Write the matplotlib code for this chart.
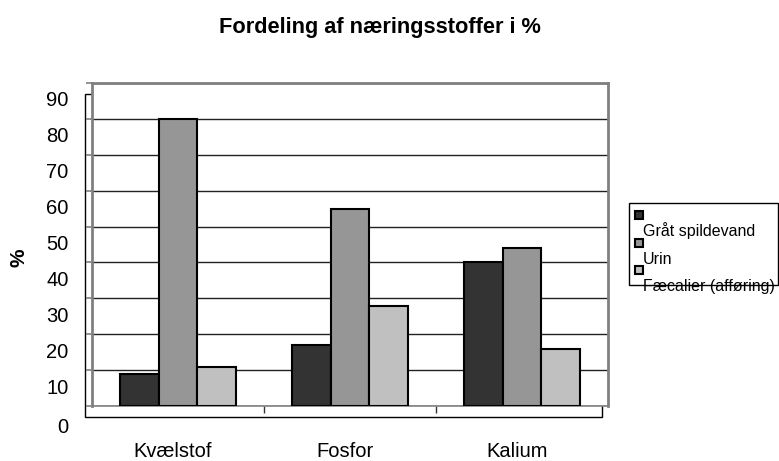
import matplotlib
matplotlib.use("Agg")
import matplotlib.pyplot as plt
from matplotlib.patches import Rectangle
from matplotlib.transforms import ScaledTranslation
import numpy as np

plt.rcParams["font.family"] = ["Liberation Sans", "DejaVu Sans"]

# Data
categories = ["Kvælstof", "Fosfor", "Kalium"]
series_names = ["Gråt spildevand", "Urin", "Fæcalier (afføring)"]
graat_spildevand = [9, 17, 40]
urin = [80, 55, 44]
faecalier = [11, 28, 16]
yticks = [0, 10, 20, 30, 40, 50, 60, 70, 80, 90]

colors = ["#333333", "#969696", "#c0c0c0"]

W, H = 779, 461
fig = plt.figure(figsize=(W / 100, H / 100), dpi=100)

def px_rect(x0, y0, x1, y1):
    """Figure-fraction rectangle from pixel corners (top-left origin)."""
    return [x0 / W, 1 - y1 / H, (x1 - x0) / W, (y1 - y0) / H]

# Back wall of the pseudo-3D plot
ax = fig.add_axes(px_rect(92, 83, 608, 406))
ax.set_xlim(-0.5, 2.5)
ax.set_ylim(0, 90)

x = np.arange(len(categories))
bw = 0.224
for i, vals in enumerate([graat_spildevand, urin, faecalier]):
    ax.bar(x + (i - 1) * bw, vals, width=bw, color=colors[i],
           edgecolor="black", linewidth=1.5, zorder=3)

# Gridlines
ax.set_yticks(yticks)
ax.yaxis.grid(True, color="#222222", linewidth=1.0, zorder=1)
ax.set_axisbelow(True)

for side in ["left", "top", "right"]:
    ax.spines[side].set_color("#808080")
    ax.spines[side].set_linewidth(2.0)
ax.spines["bottom"].set_color("#808080")
ax.spines["bottom"].set_linewidth(1.2)

ax.tick_params(axis="y", length=4, width=1.2, color="#808080", pad=13,
               labelsize=14.5)
for lab in ax.get_yticklabels():
    off = 19 if lab.get_text() == "0" else 16
    lab.set_transform(lab.get_transform() +
                      ScaledTranslation(0, -off / 100, fig.dpi_scale_trans))

ax.set_xticks(x)
ax.set_xticklabels(categories, fontsize=14.5)
ax.set_xticks([0.5, 1.5], minor=True)
ax.tick_params(axis="x", which="major", length=0, pad=26)
ax.tick_params(axis="x", which="minor", length=5, width=1.0, color="#333333")
for lab in ax.get_xticklabels():
    lab.set_transform(lab.get_transform() +
                      ScaledTranslation(-5 / 100, 0, fig.dpi_scale_trans))

# Front frame of the plot area
fig.add_artist(Rectangle((85 / W, 1 - 417 / H), (602 - 85) / W, (417 - 94) / H,
                         transform=fig.transFigure, fill=False,
                         edgecolor="black", linewidth=1.0, zorder=0))

# Titles
fig.text(380 / W, 1 - 27 / H, "Fordeling af næringsstoffer i %",
         ha="center", va="center", fontsize=15.7, fontweight="bold")
fig.text(19 / W, 1 - 258 / H, "%", ha="center", va="center", rotation=90,
         fontsize=15, fontweight="bold")

# Legend
fig.add_artist(Rectangle((629 / W, 1 - 285 / H), (778 - 629) / W, (285 - 203) / H,
                         transform=fig.transFigure, fill=False,
                         edgecolor="black", linewidth=1.0, zorder=5))
marker_y = [215, 243, 270]
text_y = [231, 259, 286]
for name, c, my, ty in zip(series_names, colors, marker_y, text_y):
    fig.add_artist(Rectangle((635 / W, 1 - (my + 4) / H), 8 / W, 8 / H,
                             transform=fig.transFigure, facecolor=c,
                             edgecolor="black", linewidth=1.5, zorder=6))
    fig.text(643 / W, 1 - ty / H, name, ha="left", va="center",
             fontsize=11.5, zorder=4)

fig.savefig("out.png", dpi=100)
